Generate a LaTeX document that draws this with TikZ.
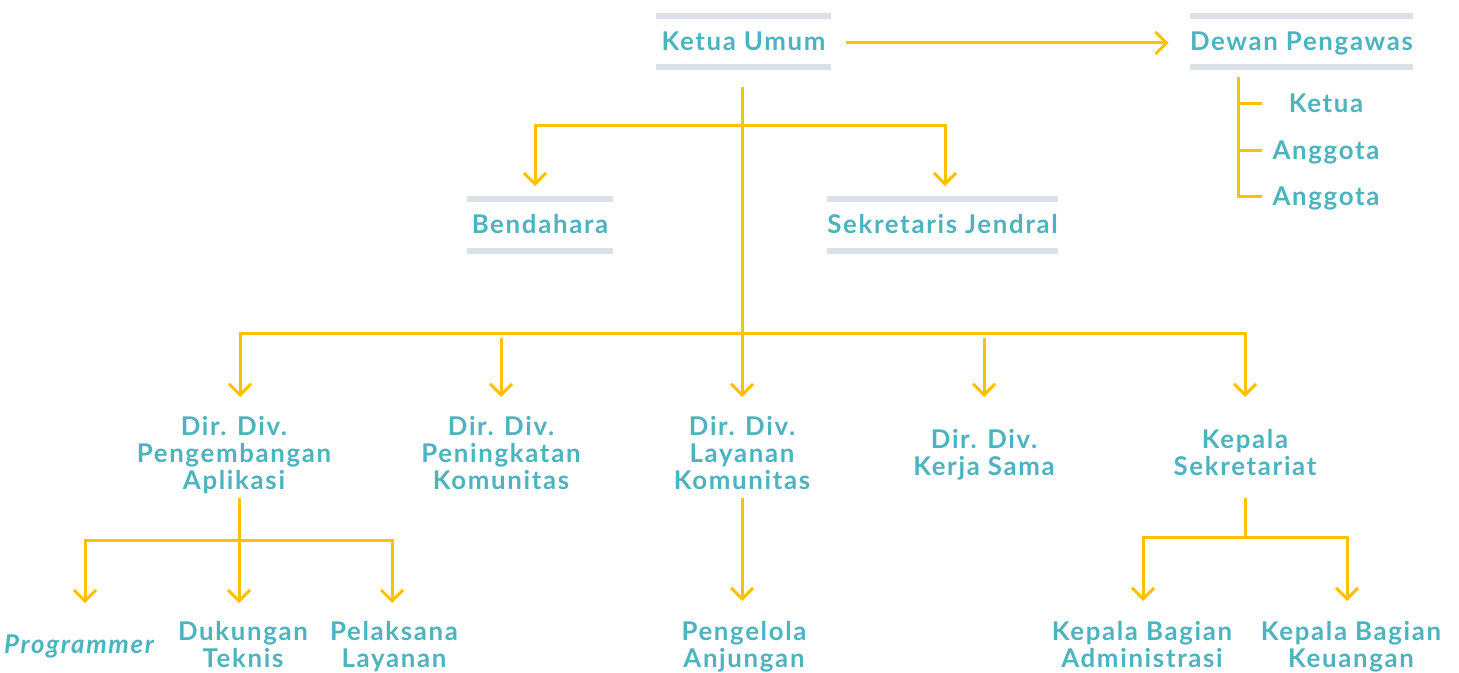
\documentclass[tikz,border=0pt]{standalone}
\usepackage{fontspec}
\setmainfont{Lato}[LetterSpace=6.5]
\usetikzlibrary{arrows.meta,calc}
\definecolor{tealtext}{HTML}{4DB3BE}
\definecolor{ayellow}{HTML}{FFC000}
\definecolor{barg}{HTML}{DCE1E7}

\begin{document}
\begin{tikzpicture}[x=0.5pt,y=-0.5pt,
  lbl/.style={font=\fontsize{12.9}{13.5}\selectfont\bfseries, text=tealtext,
              align=center, inner sep=0pt},
  toplbl/.style={lbl, anchor=north},
  barbox/.style={lbl, text height=9pt, text depth=0pt,
                 minimum height=25.5pt, minimum width=#1},
  member/.style={lbl, text height=9pt, text depth=0pt},
  bar/.style={draw=barg, line width=3pt},
  line/.style={draw=ayellow, line width=1.5pt, line join=miter},
  arr/.style={line, -{Straight Barb[length=5.5pt,width=11pt]}},
]
\useasboundingbox (0,0) rectangle (1459,673);

% --- leadership boxes framed by grey bars
\node[barbox=87.5pt]  (ku) at (743.5,41.5) {Ketua Umum};
\node[barbox=110.5pt] (dp) at (1301.5,41.5) {Dewan Pengawas};
\node[barbox=73pt]    (bd) at (540,225) {Bendahara};
\node[barbox=115.5pt] (sj) at (942.5,225) {Sekretaris Jendral};
\foreach \n in {ku,dp,bd,sj}{
  \draw[bar] (\n.north west) -- (\n.north east);
  \draw[bar] (\n.south west) -- (\n.south east);
}

% --- supervisory board members
\node[member] (m1) at (1326,104) {Ketua};
\node[member] (m2) at (1326,151) {Anggota};
\node[member] (m3) at (1326,197) {Anggota};

% --- directorates
\node[toplbl] (d1) at (234,416)  {Dir. Div.\\Pengembangan\\Aplikasi};
\node[toplbl] (d2) at (501,416)  {Dir. Div.\\Peningkatan\\Komunitas};
\node[toplbl] (d3) at (742,416)  {Dir. Div.\\Layanan\\Komunitas};
\node[toplbl] (d4) at (984,429)  {Dir. Div.\\Kerja Sama};
\node[toplbl] (d5) at (1245,429) {Kepala\\Sekretariat};

% --- staff units
\node[toplbl, font=\fontsize{12.9}{13.5}\selectfont\bfseries\itshape] (b1) at (79,634) {Programmer};
\node[toplbl] (b2) at (243,621)  {Dukungan\\Teknis};
\node[toplbl] (b3) at (394,621)  {Pelaksana\\Layanan};
\node[toplbl] (b4) at (744,621)  {Pengelola\\Anjungan};
\node[toplbl] (b5) at (1142,621) {Kepala Bagian\\Administrasi};
\node[toplbl] (b6) at (1351,621) {Kepala Bagian\\Keuangan};

% --- Ketua Umum to Dewan Pengawas
\draw[arr] ($(ku.east)+(15,1.5)$) -- ($(dp.west)+(-21,1.5)$);

% --- bracket listing the board members
\coordinate (bk) at ($(dp.south)+(-63.5,10)$);
\draw[line] (bk |- m1) -- ++(24,0);
\draw[line] (bk |- m2) -- ++(24,0);
\draw[line] (bk) |- ($(bk |- m3)+(24,0)$);

% --- main trunk
\coordinate (t1)  at ($(ku.south)+(-1.5,58)$);
\coordinate (hub) at ($(ku.south)+(-1.5,266)$);
\draw[arr] ($(ku.south)+(-1.5,20)$) -- ($(d3.north)+(0,-19)$);
\draw[arr] (t1) -| ($(bd.north)+(-5,-13)$);
\draw[arr] (t1) -| ($(sj.north)+(2.5,-13)$);

% --- directorate rail
\draw[arr] (hub) -| ($(d1.north)+(6,-19)$);
\draw[arr] (hub) -| ($(d5.north)+(0,-32)$);
\draw[arr] ($(d2.north)+(0,-78)$) -- ($(d2.north)+(0,-19)$);
\draw[arr] ($(d4.north)+(0,-91)$) -- ($(d4.north)+(0,-32)$);

% --- application development units
\coordinate (s1) at ($(d1.north)+(5,124)$);
\draw[line] ($(d1.north)+(5,82)$) -- (s1);
\draw[arr] (s1) -| ($(b1.north)+(6,-31)$);
\draw[arr] (s1) -- ($(b2.north)+(-4,-18)$);
\draw[arr] (s1) -| ($(b3.north)+(-2,-18)$);

% --- community services unit
\draw[arr] ($(d3.north)+(0,82)$) -- ($(b4.north)+(-2,-20)$);

% --- secretariat units
\coordinate (s5) at ($(d5.north)+(0,108)$);
\draw[line] ($(d5.north)+(0,69)$) -- (s5);
\draw[arr] (s5) -| ($(b5.north)+(1,-20)$);
\draw[arr] (s5) -| ($(b6.north)+(-4,-20)$);
\end{tikzpicture}
\end{document}
